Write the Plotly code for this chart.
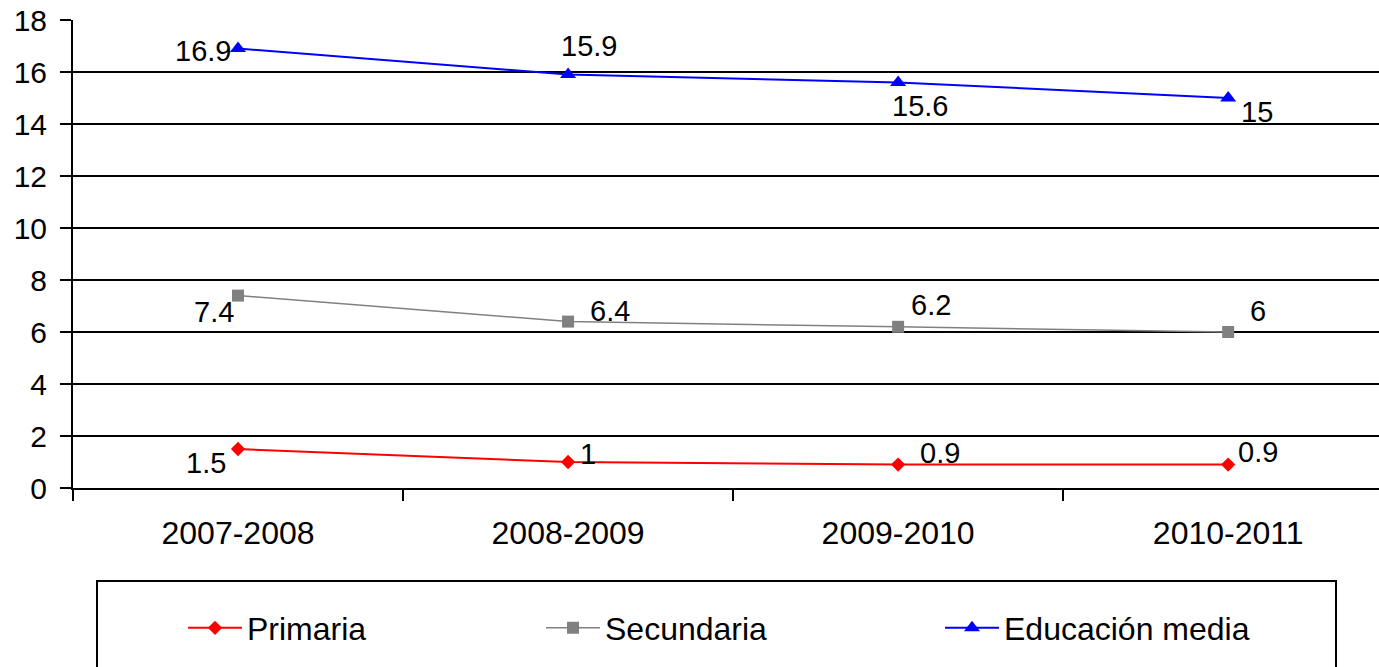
import plotly.graph_objects as go

categories = ["2007-2008", "2008-2009", "2009-2010", "2010-2011"]
primaria = [1.5, 1, 0.9, 0.9]
secundaria = [7.4, 6.4, 6.2, 6]
educacion_media = [16.9, 15.9, 15.6, 15]
y_ticks = [0, 2, 4, 6, 8, 10, 12, 14, 16, 18]

# label offsets (style): pixel shift of each data label centre from its point
off_prim = [(-32, -14), (20, 8), (42, 12), (30, 13)]
off_sec = [(-24, -16), (42, 11), (33, 22), (30, 21)]
off_edu = [(-35, -2), (21, 29), (22, -24), (29, -14)]

FONT = "Arial, Liberation Sans, sans-serif"

fig = go.Figure()
series = [
    ("Primaria", primaria, "#FF0000", "diamond", 11, 2, "legend", off_prim),
    ("Secundaria", secundaria, "#808080", "square", 12, 1.5, "legend2", off_sec),
    ("Educación media", educacion_media, "#0000FF", "triangle-up", 14, 2, "legend3", off_edu),
]
annotations = []
for name, vals, color, sym, msize, lw, leg, offs in series:
    fig.add_trace(go.Scatter(
        x=categories, y=vals, name=name, mode="lines+markers",
        line=dict(color=color, width=lw),
        marker=dict(symbol=sym, size=msize, color=color),
        legend=leg,
    ))
    for c, v, (dx, dy) in zip(categories, vals, offs):
        annotations.append(dict(
            x=c, y=v, text=str(v), showarrow=False,
            xanchor="center", yanchor="middle",
            xshift=dx, yshift=dy,
            font=dict(family=FONT, size=29, color="black"),
        ))

W, H = 1379, 667
legend_common = dict(
    orientation="h", xref="container", yref="container",
    yanchor="middle", xanchor="left", y=1 - 628 / H,
    bgcolor="rgba(0,0,0,0)", borderwidth=0, itemwidth=54,
    font=dict(family=FONT, size=32, color="black"),
)

fig.update_layout(
    width=W, height=H,
    margin=dict(l=73, r=0, t=20, b=179, autoexpand=False),
    paper_bgcolor="white", plot_bgcolor="white",
    showlegend=True,
    annotations=annotations,
    xaxis=dict(
        type="category", range=[-0.5, 3.457],
        showgrid=False, showline=True, linecolor="black", linewidth=2,
        ticks="outside", tickson="boundaries", ticklen=11, tickwidth=2, tickcolor="black",
        tickfont=dict(family=FONT, size=32, color="black"),
        ticklabelstandoff=16,
    ),
    yaxis=dict(
        range=[0, 18], tickvals=y_ticks,
        showgrid=True, gridcolor="black", gridwidth=2,
        zeroline=False,
        showline=True, linecolor="black", linewidth=2,
        ticks="outside", ticklen=11, tickwidth=2, tickcolor="black",
        tickfont=dict(family=FONT, size=30, color="black"),
        ticklabelstandoff=7,
    ),
    legend=dict(legend_common, x=(187 - 4) / W),
    legend2=dict(legend_common, x=(545 - 4) / W),
    legend3=dict(legend_common, x=(944 - 4) / W),
    shapes=[dict(
        type="rect", xref="paper", yref="paper",
        x0=(97 - 73) / 1306, x1=(1336 - 73) / 1306,
        y0=-(700 - 488) / 468, y1=-(581 - 488) / 468,
        line=dict(color="black", width=2), fillcolor="rgba(0,0,0,0)",
        layer="below",
    )],
)

fig.write_html(
    "out.html",
    config={"displayModeBar": False},
    post_script="document.body.style.margin='0';document.body.style.overflow='hidden';",
)
